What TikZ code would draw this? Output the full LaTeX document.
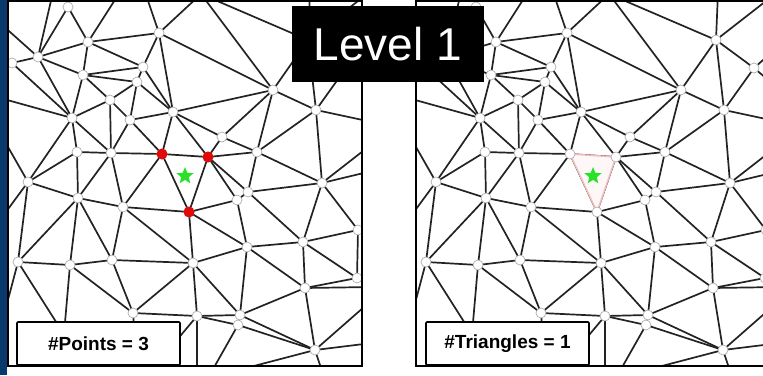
\documentclass[tikz,border=0pt]{standalone}
\usepackage{fontspec}
\setmainfont{Liberation Sans}
\usetikzlibrary{shapes.geometric}
\definecolor{navy}{RGB}{8,58,110}
\definecolor{meshc}{RGB}{35,35,35}
\definecolor{vtxc}{RGB}{175,175,175}
\definecolor{dotred}{RGB}{225,10,10}
\definecolor{stargreen}{RGB}{40,225,40}
\definecolor{pinkc}{RGB}{240,190,190}
\tikzset{
  meshline/.style={draw=meshc,line width=1.7pt},
  vtx/.style={circle,fill=white,draw=vtxc,line width=0.7pt,minimum size=10pt,inner sep=0pt},
  reddot/.style={circle,fill=dotred,minimum size=11pt,inner sep=0pt},
  gstar/.style={star,star points=5,star point ratio=2.3,fill=stargreen,minimum size=18pt,inner sep=0pt},
  framebox/.style={draw=black,line width=2.2pt},
  labbox/.style={draw=black,fill=white,line width=1.6pt,rounded corners=1pt,minimum width=163pt,minimum height=43pt,
    font=\bfseries\fontsize{19}{22}\selectfont},
  levelbox/.style={fill=black,text=white,minimum width=192pt,minimum height=76pt,font=\fontsize{46}{50}\selectfont}
}
\newcommand{\meshpts}[1]{%
\foreach \n/\x/\y in {a1/68/7,a2/159/33,a3/88/42,a4/38/57,a5/12/63,a6/143/67,a7/83/75,a8/137/82,
 a9/110/100,a10/273/90,a11/308/40,a12/346/68,a13/173/112,a14/130/120,a15/72/118,a16/316/110,
 a17/222/137,a18/77/152,a19/111/153,r1/162/154,r2/208/157,a20/257/152,a21/28/182,a22/322/183,
 a23/248/192,a24/237/200,a25/78/198,a26/123/207,r3/189/212,a27/358/230,a28/303/242,a29/247/247,
 a30/18/262,a31/70/265,a32/112/260,a33/193/263,a34/357/278,a35/305/288,a36/133/313,a37/197/316,
 a38/240/315,a39/238/325,a40/315/350,
 b1/53/-8,b2/72/-8,b3/120/-8,b4/145/-8,b5/201/-6,b6/310/-8,b7/367/-6,
 l1/0/23,l3/0/98,l4/0/133,l5/0/220,l6/0/330,
 d1/93/380,d2/60/380,d3/138/380,d4/150/372,d5/197/380,d6/208/378,d7/325/380,
 e1/372/45,e2/372/90,e3/372/122,e4/372/144,e5/372/171,e7/372/287,e8/372/300,e9/372/343}
 {\coordinate (#1\n) at (\x,\y);}%
}
\def\meshedges{a1/a3,a1/a4,a1/b2,a4/b1,a4/l1,a4/a5,a4/a3,a4/a7,a4/a15,a5/a15,a15/l3,a3/b3,a3/a2,
 a3/a6,a3/a7,a7/a6,a7/a8,a7/a9,a7/a15,a6/a8,a6/a2,a6/a13,a2/b4,a2/b5,a2/a10,a2/a13,a8/a13,a8/a9,
 a8/a14,a9/a14,a9/a15,a9/a19,a14/a13,a14/a19,a14/r1,a15/a19,a15/a18,a15/a21,a18/a19,a18/a21,
 a18/a25,a21/l4,a21/l5,a21/a25,a21/a30,a19/r1,a19/a25,a19/a26,r1/a26,r1/r2,r1/r3,r1/a13,r2/a13,
 r2/a17,r2/a20,r2/r3,r2/a23,r2/a24,a13/a17,a13/a10,a17/a10,a17/a20,a20/a10,a20/a16,a20/a22,
 a20/a23,a10/b5,a10/a11,a10/a16,a11/b5,a11/b6,a11/b7,a11/a12,a11/a16,a12/a16,a12/e1,a12/e2,
 a16/e3,a16/a22,a22/e4,a22/e5,a22/a23,a22/a27,a22/a28,a23/a24,a23/a28,a24/a29,r3/a24,r3/a29,
 r3/a26,r3/a33,a25/a26,a25/a30,a25/a31,a25/a32,a26/a32,a26/a33,a27/a28,a27/a34,a28/a29,a28/a34,
 a28/a35,a29/a33,a29/a38,a29/a35,a30/a31,a30/l6,a30/d1,a31/a32,a31/d2,a31/a36,a32/a36,a32/a33,
 a33/a36,a33/a37,a33/a38,a34/a35,a35/a38,a35/a40,a35/e7,a36/a37,a36/d3,a37/a38,a37/a39,a37/d4,
 a37/d5,a38/a40,a38/a39,a39/a40,a39/d6,a40/d6,a40/d7,a40/e8,a40/e9}
\def\meshvtx{a1,a2,a3,a4,a5,a6,a7,a8,a9,a10,a11,a12,a13,a14,a15,a16,a17,a18,a19,a20,a21,a22,
 a23,a24,a25,a26,a27,a28,a29,a30,a31,a32,a33,a34,a35,a36,a37,a38,a39,a40,r1,r2,r3}
\newcommand{\drawmesh}[1]{%
 \foreach \u/\v in \meshedges {\draw[meshline] (#1\u) -- (#1\v);}%
}
\newcommand{\drawvtx}[1]{%
 \foreach \n in \meshvtx {\node[vtx] (#1\n-v) at (#1\n) {};}%
}
\begin{document}
\begin{tikzpicture}[x=1pt,y=-1pt]
\useasboundingbox (0,0) rectangle (763,375);
\fill[white] (0,0) rectangle (763,375);
\fill[navy] (0,0) rectangle (7,375);
% left panel
\meshpts{L}
\begin{scope}
 \clip (8,0) rectangle (362,366);
 \drawmesh{L}
 \drawvtx{L}
\end{scope}
\draw[framebox] (8,1) rectangle (362,366);
\node[reddot] (redA) at (Lr1) {};
\node[reddot] (redB) at (Lr2) {};
\node[reddot] (redC) at (Lr3) {};
\node[gstar] (starL) at (185,176) {};
% right panel
\begin{scope}[xshift=408pt]
 \meshpts{R}
\end{scope}
\begin{scope}
 \clip (416,0) rectangle (763,366);
 \drawmesh{R}
 \draw[draw=pinkc,line width=1.5pt,fill=pinkc!12] (Rr1) -- (Rr2) -- (Rr3) -- cycle;
 \drawvtx{R}
\end{scope}
\draw[framebox] (770,1) -- (416,1) -- (416,366) -- (770,366);
\node[gstar] (starR) at (593,176) {};
% labels
\node[labbox] (ptsbox) at (98.5,343.5) {\#Points = 3};
\node[labbox] (tribox) at (507.5,343.5) {\#Triangles = 1};
\node[levelbox] (lvl) at (388,44) {Level 1};
\end{tikzpicture}
\end{document}
